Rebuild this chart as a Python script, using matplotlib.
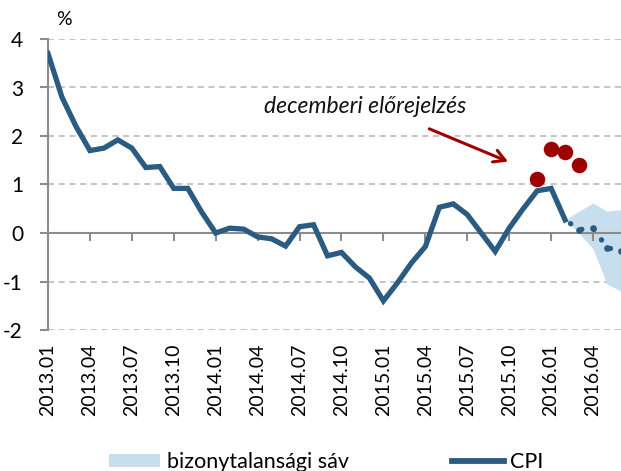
import matplotlib
matplotlib.use("Agg")
from matplotlib import pyplot as plt
from matplotlib.patches import Patch
from matplotlib.lines import Line2D
import numpy as np

plt.rcParams['font.family'] = ['Lato', 'DejaVu Sans']
plt.rcParams['axes.unicode_minus'] = False

# monthly CPI, 2013.01 - 2016.02 (%)
cpi = [3.7, 2.8, 2.2, 1.7, 1.75, 1.92, 1.75, 1.35, 1.37, 0.92, 0.92, 0.43,
       0.0, 0.1, 0.08, -0.08, -0.12, -0.27, 0.13, 0.17, -0.47, -0.4, -0.7, -0.93,
       -1.4, -1.03, -0.62, -0.28, 0.53, 0.6, 0.38, 0.0, -0.38, 0.1, 0.5, 0.87,
       0.92, 0.27]
# forecast 2016.02 - 2016.06
fc = [0.27, 0.07, 0.1, -0.3, -0.38]
band_hi = [0.27, 0.45, 0.62, 0.45, 0.48]
band_lo = [0.27, 0.0, -0.33, -1.05, -1.2]
# december forecast points 2015.12 - 2016.03
dec_fc = [1.12, 1.73, 1.66, 1.4]

tick_labels = ['2013.01', '2013.04', '2013.07', '2013.10', '2014.01', '2014.04',
               '2014.07', '2014.10', '2015.01', '2015.04', '2015.07', '2015.10',
               '2016.01', '2016.04']

line_c = '#2b5b80'
red_c = '#9e0000'
band_c = '#c7deee'

fig = plt.figure(figsize=(6.21, 4.71), dpi=100)
ax = fig.add_axes([48/621, 1-330/471, 1-48/621, (330-39)/471])

x_cpi = np.arange(len(cpi))
x_fc = np.arange(len(cpi)-1, len(cpi)-1+len(fc))
x_dec = np.arange(35, 35+len(dec_fc))

ax.fill_between(x_fc, band_lo, band_hi, color=band_c, lw=0, zorder=1)
ax.plot(x_cpi, cpi, color=line_c, lw=3.8, solid_joinstyle='miter', zorder=3)
# dotted forecast: a dot at every month plus dots in between
ax.plot(x_fc, fc, color=line_c, lw=3.8, linestyle=(1.2, (0.05, 2.4)),
        dash_capstyle='round', zorder=3)
ax.plot(x_fc[1:], fc[1:], color=line_c, lw=0, marker='o', ms=4.8,
        mew=0, zorder=3, clip_on=False)
ax.scatter(x_dec, dec_fc, s=125, color=red_c, zorder=4, linewidths=0)

ax.annotate('', xy=(33.1, 1.45), xytext=(27.1, 2.17),
            arrowprops=dict(arrowstyle='->,head_length=0.8,head_width=0.45',
                            color=red_c, lw=2.2))
ax.text(22.7, 2.6, 'decemberi előrejelzés', ha='center', va='center',
        fontsize=16.5, style='italic', color='#111111')

ax.set_xlim(0, 41)
ax.set_ylim(-2, 4)
ax.set_yticks([-2, -1, 0, 1, 2, 3, 4])
for v in [-2, -1, 1, 2, 3, 4]:
    ax.axhline(v, color='#b5b5b5', lw=1.1, ls=(0, (4, 3)), zorder=0)

for s in ['top', 'right']:
    ax.spines[s].set_visible(False)
ax.spines['left'].set_color('#8c8c8c')
ax.spines['left'].set_linewidth(1.5)
ax.spines['bottom'].set_position(('data', 0))
ax.spines['bottom'].set_color('#8c8c8c')
ax.spines['bottom'].set_linewidth(1.5)

ax.set_xticks(np.arange(0, 42, 3))
ax.tick_params(axis='x', direction='out', length=6, width=1.5, color='#8c8c8c',
               labelbottom=False)
ax.tick_params(axis='y', direction='out', length=6, width=1.5, color='#8c8c8c',
               labelsize=15, pad=12)

sec = ax.secondary_xaxis('bottom')
sec.set_xticks(np.arange(0, 42, 3), tick_labels, rotation=90)
sec.tick_params(length=0, labelsize=14, pad=10)
sec.spines['bottom'].set_visible(False)

ax.text(0.55, 4.22, '%', fontsize=14, ha='left', va='bottom')

handles = [Patch(facecolor=band_c, edgecolor='none'),
           Line2D([], [], color=line_c, lw=4.2)]
fig.legend(handles, ['bizonytalansági sáv', 'CPI'], loc='center',
           bbox_to_anchor=(0.525, 1-462/471), ncol=2, frameon=False,
           fontsize=15.5, handlelength=2.4, handleheight=0.6, columnspacing=4.8,
           handletextpad=0.3)

fig.savefig('out.png', dpi=100)
